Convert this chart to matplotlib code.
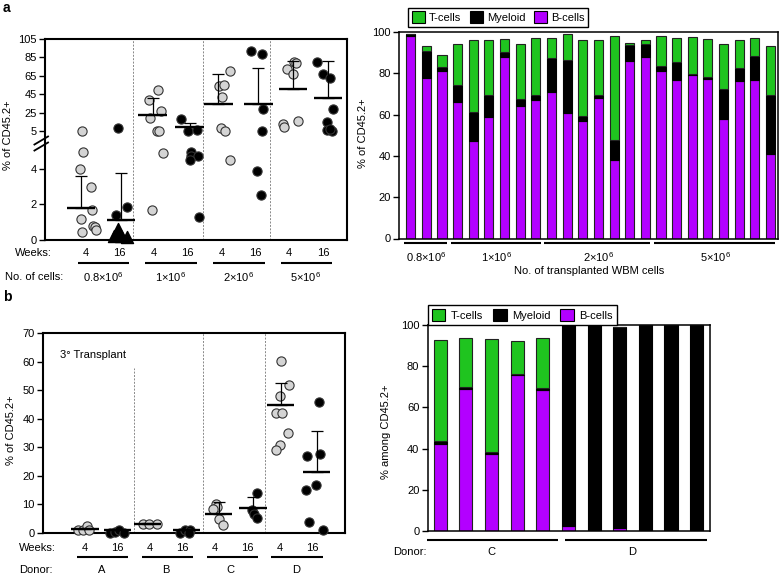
import matplotlib
matplotlib.use('Agg')
from matplotlib import pyplot as plt
from matplotlib import transforms
from matplotlib.patches import Patch
import numpy as np

plt.rcParams['font.family'] = ['Liberation Sans', 'DejaVu Sans']
plt.rcParams['font.size'] = 8
plt.rcParams['mathtext.fontset'] = 'custom'
plt.rcParams['mathtext.rm'] = 'Liberation Sans'

GRAY = '#d4d4d4'
GREEN = '#1fc41f'
PURPLE = '#b300ff'

# ---------------- panel a, left: % CD45.2+ per mouse
a_weeks = ['4', '16', '4', '16', '4', '16', '4', '16']
a_cells = ['0.8×10$^6$', '1×10$^6$', '2×10$^6$', '5×10$^6$']
a_vals = [
    [5.3, 4.96, 3.99, 2.96, 1.69, 1.16, 0.79, 0.75, 0.56, 0.47],
    [7.9, 1.84, 1.4],
    [38.7, 49.6, 26.7, 19.0, 5.3, 5.5, 4.9, 1.7],
    [18.0, 5.3, 6.0, 4.94, 4.72, 4.72, 4.5, 1.3],
    [70.0, 54.0, 55.0, 42.0, 8.0, 5.5, 4.5],
    [92.0, 89.0, 29.0, 5.5, 3.9, 2.5],
    [72.4, 80.0, 79.0, 67.0, 12.6, 9.3, 15.9],
    [80.0, 67.0, 63.0, 29.0, 14.8, 6.0, 5.5, 7.0],
]
a_jit = [
    [-0.13, -0.1, -0.18, 0.14, 0.18, -0.15, 0.2, 0.27, 0.3, -0.13],
    [-0.05, 0.22, -0.12],
    [-0.15, 0.12, 0.21, -0.12, 0.09, 0.15, 0.27, -0.06],
    [-0.18, 0.0, 0.27, 0.09, 0.09, 0.3, 0.06, 0.35],
    [0.24, -0.06, 0.09, 0.03, 0.0, 0.12, 0.24],
    [-0.12, 0.21, 0.24, 0.21, 0.06, 0.18],
    [-0.06, 0.15, 0.21, 0.12, -0.18, -0.15, 0.27],
    [-0.18, 0.0, 0.21, 0.3, 0.12, 0.12, 0.27, 0.21],
]
a_tri_vals = [0.6, 0.2, 0.2, 0.15]      # undetectable mice, 0.8e6 / wk16
a_tri_jit = [-0.06, -0.18, 0.03, 0.2]
a_mean = [1.78, 1.12, 22.4, 9.3, 34.3, 34.3, 50.6, 40.9]
a_sem_top = [3.61, 3.78, 40.9, 13.7, 67.0, 73.5, 81.0, 81.0]
a_shift = [-0.14, 0.03, -0.03, 0.06, -0.09, 0.09, 0.12, 0.15]

# ---------------- panel a, right: lineage composition
a_B = [97.9, 77.7, 80.9, 65.9, 47.0, 59.0, 87.9, 64.1, 66.9, 70.9, 60.9, 56.9,
       68.0, 38.1, 85.8, 87.9, 80.9, 76.9, 79.0, 77.1, 58.0, 76.1, 76.9, 40.9]
a_M = [1.3, 13.1, 2.1, 8.4, 14.4, 10.3, 2.4, 3.3, 2.4, 16.5, 25.4, 2.6,
       1.6, 9.4, 7.7, 6.4, 2.5, 8.4, 0.8, 1.3, 14.4, 6.5, 11.3, 28.4]
a_T = [0.0, 2.4, 6.0, 19.9, 34.9, 27.0, 6.5, 26.8, 27.8, 9.7, 12.7, 36.8,
       26.7, 50.6, 1.2, 2.0, 14.7, 11.8, 17.9, 18.4, 21.8, 13.7, 8.9, 23.9]
a_bar_groups = [3, 6, 7, 8]

# ---------------- panel b, left: 3rd transplant
b_weeks = ['4', '16', '4', '16', '4', '16', '4', '16']
b_donors = ['A', 'B', 'C', 'D']
b_vals = [
    [1.0, 1.2, 2.6, 0.9],
    [0.0, 0.2, 0.9, 0.0],
    [3.1, 3.1, 3.1],
    [0.1, 0.9, 0.9, 0.1],
    [10.0, 9.0, 8.4, 4.9, 2.9],
    [14.0, 7.9, 6.8, 5.3],
    [60.1, 51.9, 48.1, 42.0, 42.0, 35.0, 30.9, 28.9],
    [45.9, 27.1, 27.8, 16.8, 15.0, 4.0, 0.9],
]
b_jit = [
    [-0.22, -0.06, 0.06, 0.12],
    [-0.23, -0.07, 0.05, 0.2],
    [-0.21, -0.03, 0.22],
    [-0.07, 0.08, 0.24, 0.21],
    [0.04, 0.07, -0.05, 0.13, 0.26],
    [0.31, 0.15, 0.21, 0.31],
    [0.04, 0.29, 0.01, -0.11, 0.07, 0.26, 0.01, -0.11],
    [0.22, -0.15, 0.25, 0.12, -0.18, -0.09, 0.34],
]
b_mean = [1.4, 0.9, 3.3, 0.9, 6.8, 8.6, 44.9, 21.5]
b_sem_top = [1.8, 1.1, 3.4, 1.1, 10.8, 12.6, 52.5, 35.6]
b_shift = [0.0, 0.0, -0.07, 0.14, 0.13, 0.18, 0.04, 0.15]

# ---------------- panel b, right
bb_B = [42.4, 68.8, 37.5, 75.6, 68.6, 2.3, 0.0, 1.6, 0.0, 0.0, 0.0]
bb_M = [1.5, 1.1, 0.7, 0.8, 0.8, 97.7, 100.0, 97.6, 100.0, 100.0, 100.0]
bb_T = [48.7, 23.8, 54.8, 15.8, 24.1, 0.0, 0.0, 0.0, 0.0, 0.0, 0.0]
bb_donors = ['C', 'D']
bb_groups = [5, 6]

W, H = 780, 575
fig = plt.figure(figsize=(7.8, 5.75), dpi=100)


def px_axes(x0, y0, x1, y1):
    return fig.add_axes([x0 / W, 1 - y1 / H, (x1 - x0) / W, (y1 - y0) / H])


def below(ax, x, dy, s, **kw):
    # text centred dy pixels under the bottom spine
    ax.annotate(s, (x, 0), xycoords=('data', 'axes fraction'),
                xytext=(0, -dy * 0.72), textcoords='offset points',
                ha='center', va='center', annotation_clip=False, **kw)


def underline(ax, x0, x1, dy, h_px, lw=1.5):
    tr = transforms.blended_transform_factory(ax.transData, ax.transAxes)
    ax.plot([x0, x1], [-dy / h_px] * 2, color='black', lw=lw,
            transform=tr, clip_on=False, solid_capstyle='butt')


def dot_panel(ax, vals, jit, mean, sem_top, shift):
    for i, (v, j) in enumerate(zip(vals, jit)):
        fc = GRAY if i % 2 == 0 else 'black'
        ax.scatter(i + np.array(j), v, s=44, facecolor=fc, edgecolor='#333333',
                   linewidth=0.8, zorder=3, clip_on=False)
    for i in range(len(mean)):
        xc = i + shift[i]
        ax.plot([xc - 0.42, xc + 0.42], [mean[i], mean[i]], color='black',
                lw=1.7, zorder=4, solid_capstyle='butt')
        ax.errorbar(xc, mean[i], yerr=[[0], [sem_top[i] - mean[i]]], fmt='none',
                    ecolor='black', elinewidth=0.9, capsize=4, capthick=0.9, zorder=4)


def legend(ax, anchor, hl, tp, cs):
    handles = [Patch(facecolor=c, edgecolor='black', lw=0.8)
               for c in (GREEN, 'black', PURPLE)]
    leg = ax.legend(handles, ['T-cells', 'Myeloid', 'B-cells'], ncol=3,
                    loc='lower left', bbox_to_anchor=anchor, borderaxespad=0,
                    fancybox=False, edgecolor='black', framealpha=1,
                    handlelength=hl, handleheight=1.25, handletextpad=tp,
                    columnspacing=cs, borderpad=0.35)
    leg.get_frame().set_linewidth(1.0)


# ===================== a left =====================
BRK, GAP, K = 5.0, 1.12, 0.0517


def fwd(y):
    y = np.asarray(y, float)
    return np.where(y <= BRK, y, BRK + GAP + (y - BRK) * K)


def inv(t):
    t = np.asarray(t, float)
    return np.where(t <= BRK, t,
                    np.where(t < BRK + GAP, BRK, BRK + (t - BRK - GAP) / K))


ax = px_axes(45, 39, 347, 240)
ax.set_yscale('function', functions=(fwd, inv))
dot_panel(ax, a_vals, a_jit, a_mean, a_sem_top, a_shift)
ax.scatter(1 + np.array(a_tri_jit), a_tri_vals, marker='^', s=75, color='black',
           zorder=3, clip_on=False)
ax.set_ylim(0, 105)
ax.set_xlim(-1.21, 7.71)
ax.set_yticks([0, 2, 4, 5.0001, 25, 45, 65, 85, 105],
              ['0', '2', '4', '5', '25', '45', '65', '85', '105'])
ax.set_xticks([])
for xd in [1.4, 3.45, 5.45]:
    ax.axvline(xd, color='#888888', lw=0.7, ls=(0, (2, 1.5)), zorder=1)
for s in ax.spines.values():
    s.set_linewidth(1.5)
ax.tick_params(axis='y', length=4, width=1, pad=2)
# axis break marks
for dy in (0.0, 0.03):
    ax.plot([-0.035, 0.01], [0.445 + dy, 0.485 + dy], color='black', lw=1.3,
            transform=ax.transAxes, clip_on=False, zorder=5)
for i, w in enumerate(a_weeks):
    below(ax, i, 13, w)
for g, lab in enumerate(a_cells):
    underline(ax, 2 * g - 0.25, 2 * g + 1.28, 23, 201)
    below(ax, 2 * g + 0.5, 37, lab)
fig.text(15 / W, 1 - 253 / H, 'Weeks:', ha='left', va='center')
fig.text(5 / W, 1 - 277 / H, 'No. of cells:', ha='left', va='center')
fig.text(8 / W, 1 - 135 / H, '% of CD45.2+', rotation=90, ha='center', va='center')

# ===================== a right =====================
ax = px_axes(399, 32, 778, 238.5)
x = np.arange(len(a_B))
bB = np.array(a_B)
bM = np.array(a_M)
ax.bar(x, a_B, 0.58, color=PURPLE, edgecolor='#222222', lw=0.8)
ax.bar(x, a_M, 0.58, bottom=bB, color='black', edgecolor='black', lw=0.8)
ax.bar(x, a_T, 0.58, bottom=bB + bM, color=GREEN, edgecolor='#222222', lw=0.8)
ax.set_xlim(-0.75, 23.48)
ax.set_ylim(0, 100)
ax.set_yticks(range(0, 101, 20))
ax.set_xticks([])
ax.tick_params(axis='y', length=4, width=1, pad=2)
for s in ax.spines.values():
    s.set_linewidth(1.1)
start = 0
for g, n in enumerate(a_bar_groups):
    underline(ax, start - 0.45, start + n - 1 + 0.3, 4, 206.5)
    below(ax, start + (n - 1) / 2, 19, a_cells[g])
    start += n
below(ax, 11.4, 32, 'No. of transplanted WBM cells')
legend(ax, (0.024, 1.024), 1.15, 0.4, 0.75)
fig.text(363 / W, 1 - 133 / H, '% of CD45.2+', rotation=90, ha='center', va='center')

# ===================== b left =====================
ax = px_axes(43, 333, 345, 533)
dot_panel(ax, b_vals, b_jit, b_mean, b_sem_top, b_shift)
ax.set_ylim(0, 70)
ax.set_xlim(-1.295, 8.02)
ax.set_yticks(range(0, 71, 10))
ax.set_xticks([])
ax.axvline(1.51, ymax=57.7 / 70, color='#888888', lw=0.7, ls=(0, (2, 1.5)), zorder=1)
for xd in [3.64, 5.55]:
    ax.axvline(xd, color='#888888', lw=0.7, ls=(0, (2, 1.5)), zorder=1)
for s in ax.spines.values():
    s.set_linewidth(1.5)
ax.tick_params(axis='y', length=4, width=1, pad=2)
ax.text(0.056, 0.89, '3° Transplant', transform=ax.transAxes, ha='left', va='center')
for i, w in enumerate(b_weeks):
    below(ax, i, 15, w)
for g, lab in enumerate(b_donors):
    underline(ax, 2 * g - 0.25, 2 * g + 1.33, 24, 200)
    below(ax, 2 * g + 0.5, 37, lab)
fig.text(19 / W, 1 - 548 / H, 'Weeks:', ha='left', va='center')
fig.text(19 / W, 1 - 570 / H, 'Donor:', ha='left', va='center')
fig.text(11 / W, 1 - 430 / H, '% of CD45.2+', rotation=90, ha='center', va='center')

# ===================== b right =====================
ax = px_axes(427.7, 325, 710, 531)
x = np.arange(len(bb_B))
bB = np.array(bb_B)
bM = np.array(bb_M)
ax.bar(x, bb_B, 0.51, color=PURPLE, edgecolor='#222222', lw=0.8)
ax.bar(x, bb_M, 0.51, bottom=bB, color='black', edgecolor='black', lw=0.8)
ax.bar(x, bb_T, 0.51, bottom=bB + bM, color=GREEN, edgecolor='#222222', lw=0.8)
ax.set_xlim(-0.49, 10.52)
ax.set_ylim(0, 100)
ax.set_yticks(range(0, 101, 20))
ax.set_xticks([])
ax.tick_params(axis='y', length=4, width=1, pad=2)
for s in ax.spines.values():
    s.set_linewidth(1.1)
start = 0
pads = [(0.52, 0.59), (0.14, 0.4)]
for g, n in enumerate(bb_groups):
    underline(ax, start - pads[g][0], start + n - 1 + pads[g][1], 9, 206)
    below(ax, start + (n - 1) / 2, 21, bb_donors[g])
    start += n
legend(ax, (0, 1.0), 1.25, 0.5, 0.85)
fig.text(393 / W, 1 - 552 / H, 'Donor:', ha='left', va='center')
fig.text(386 / W, 1 - 432 / H, '% among CD45.2+', rotation=90, ha='center', va='center')

# panel letters
fig.text(3 / W, 1 - 8 / H, 'a', fontsize=10, fontweight='bold', ha='left', va='center')
fig.text(3 / W, 1 - 297 / H, 'b', fontsize=10, fontweight='bold', ha='left', va='center')

fig.savefig('out.png', dpi=100)
